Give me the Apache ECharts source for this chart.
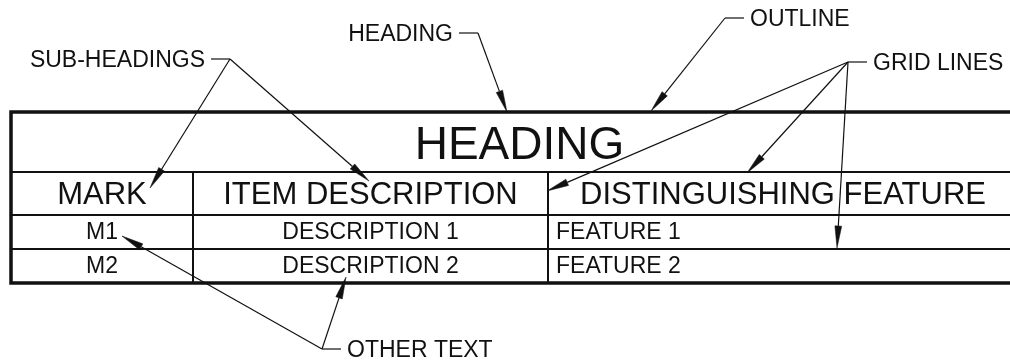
<!DOCTYPE html>
<html>
<head>
<meta charset="utf-8">
<script src="https://cdn.jsdelivr.net/npm/echarts@6/dist/echarts.min.js"></script>
<style>
html,body{margin:0;padding:0;background:#fff;}
#chart{width:1010px;height:362px;}
</style>
</head>
<body>
<div id="chart"></div>
<script>
// ---- content ----
const heading = 'HEADING';
const subHeadings = ['MARK', 'ITEM DESCRIPTION', 'DISTINGUISHING FEATURE'];
const marks = ['M1', 'M2'];
const descriptions = ['DESCRIPTION 1', 'DESCRIPTION 2'];
const features = ['FEATURE 1', 'FEATURE 2'];
const calloutLabels = ['HEADING', 'SUB-HEADINGS', 'OUTLINE', 'GRID LINES', 'OTHER TEXT'];

// ---- diagram layout (drawing units on the hidden axes) ----
const colEdges = [11, 193, 548, 1018];
const rowEdges = [112, 172, 215, 249, 283];
const calloutElbows = [[478, 33], [230, 59], [725, 18], [848, 62], [322, 349]];
const calloutSides = ['left', 'left', 'right', 'right', 'right'];
const calloutTargets = [
  [[507, 112]],
  [[150, 188], [369, 181]],
  [[651, 111]],
  [[547, 191], [747, 173], [837, 248]],
  [[122, 236], [346, 277]]
];

const FONT = '"Liberation Sans", Arial, Helvetica, sans-serif';
const INK = '#111';

// build cell table from the arrays
const cells = [];
cells.push({ value: [colEdges[0], colEdges[3], rowEdges[0], rowEdges[1]], text: heading, kind: 'heading', align: 'center' });
subHeadings.forEach((t, i) => cells.push({ value: [colEdges[i], colEdges[i + 1], rowEdges[1], rowEdges[2]], text: t, kind: 'sub', align: 'center' }));
const bodyRows = marks.map((m, i) => [m, descriptions[i], features[i]]);
bodyRows.forEach((row, ri) => row.forEach((t, ci) => cells.push({
  value: [colEdges[ci], colEdges[ci + 1], rowEdges[ri + 2], rowEdges[ri + 3]], text: t, kind: 'body', align: ci === 2 ? 'left' : 'center'
})));

const fontSizes = { heading: 46, sub: 31, body: 23 };
const textShift = { heading: 4, sub: 1.5, body: 1 };

function renderCell(params, api) {
  const d = cells[params.dataIndex];
  const p0 = api.coord([api.value(0), api.value(2)]);
  const p1 = api.coord([api.value(1), api.value(3)]);
  const children = [];
  if (d.kind !== 'heading') {
    children.push({
      type: 'rect',
      shape: { x: p0[0], y: p0[1], width: p1[0] - p0[0], height: p1[1] - p0[1] },
      style: { fill: null, stroke: INK, lineWidth: 2 }
    });
  }
  const tx = d.align === 'left' ? p0[0] + 8 : (p0[0] + p1[0]) / 2 + (d.kind === 'heading' ? 5 : 0);
  children.push({
    type: 'text',
    style: {
      x: tx, y: (p0[1] + p1[1]) / 2 + textShift[d.kind],
      text: d.text, fill: INK,
      font: fontSizes[d.kind] + 'px ' + FONT,
      align: d.align, verticalAlign: 'middle'
    }
  });
  return { type: 'group', children };
}

function renderOutline(params, api) {
  const p0 = api.coord([colEdges[0], rowEdges[0]]);
  const p1 = api.coord([colEdges[colEdges.length - 1], rowEdges[rowEdges.length - 1]]);
  return {
    type: 'rect',
    shape: { x: p0[0], y: p0[1], width: p1[0] - p0[0], height: p1[1] - p0[1] },
    style: { fill: null, stroke: INK, lineWidth: 3.5 }
  };
}

function renderCallout(params, api) {
  const i = params.dataIndex;
  const e = api.coord([api.value(0), api.value(1)]);
  const side = calloutSides[i];
  const dir = side === 'left' ? -1 : 1;
  const stubEnd = e[0] + dir * 19;
  const children = [];
  children.push({ type: 'line', shape: { x1: e[0], y1: e[1], x2: stubEnd, y2: e[1] }, style: { stroke: INK, lineWidth: 1.2 } });
  children.push({
    type: 'text',
    style: {
      x: stubEnd + dir * 6, y: e[1] + 1.5, text: calloutLabels[i], fill: INK,
      font: '23px ' + FONT, align: side === 'left' ? 'right' : 'left', verticalAlign: 'middle'
    }
  });
  calloutTargets[i].forEach(t => {
    const tp = api.coord(t);
    let dx = tp[0] - e[0], dy = tp[1] - e[1];
    const len = Math.sqrt(dx * dx + dy * dy);
    dx /= len; dy /= len;
    const L = 22, W = 3.4;
    const bx = tp[0] - dx * L, by = tp[1] - dy * L;
    children.push({ type: 'line', shape: { x1: e[0], y1: e[1], x2: bx, y2: by }, style: { stroke: INK, lineWidth: 1.2 } });
    children.push({
      type: 'polygon',
      shape: { points: [[tp[0], tp[1]], [bx - dy * W, by + dx * W], [bx + dy * W, by - dx * W]] },
      style: { fill: INK, stroke: INK, lineWidth: 0.5 }
    });
  });
  return { type: 'group', children };
}

const chart = echarts.init(document.getElementById('chart'), null, { renderer: 'canvas' });
chart.setOption({
  backgroundColor: '#fff',
  animation: false,
  grid: { left: 0, right: 0, top: 0, bottom: 0 },
  xAxis: { type: 'value', min: 0, max: 1010, show: false },
  yAxis: { type: 'value', min: 0, max: 362, inverse: true, show: false },
  series: [
    { type: 'custom', renderItem: renderCell, data: cells.map(c => c.value), encode: { x: [0, 1], y: [2, 3] }, clip: false, silent: true },
    { type: 'custom', renderItem: renderOutline, data: [[colEdges[0], rowEdges[0]]], encode: { x: 0, y: 1 }, clip: false, silent: true },
    { type: 'custom', renderItem: renderCallout, data: calloutElbows, encode: { x: 0, y: 1 }, clip: false, silent: true, z: 5 }
  ]
});
</script>
</body>
</html>
